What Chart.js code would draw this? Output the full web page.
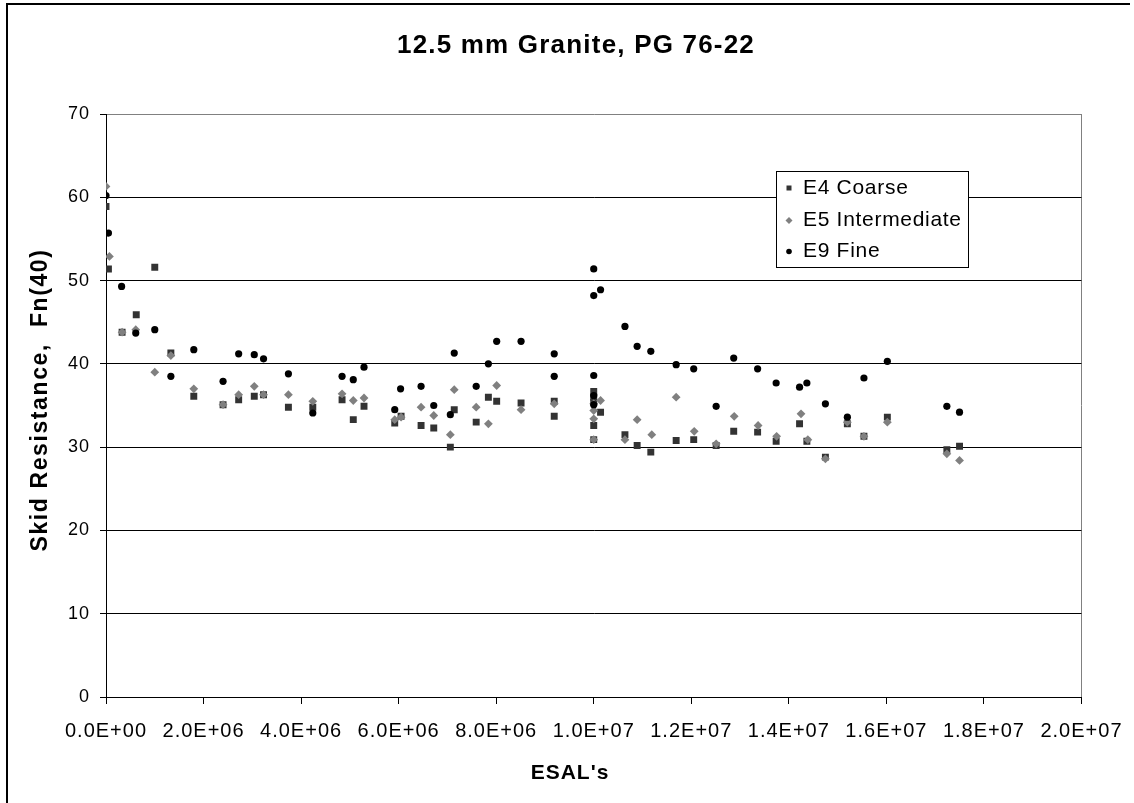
<!DOCTYPE html>
<html>
<head>
<meta charset="utf-8">
<title>12.5 mm Granite, PG 76-22</title>
<script src="https://cdn.jsdelivr.net/npm/chart.js@4.4.0/dist/chart.umd.min.js"></script>
<style>
    html, body { margin: 0; padding: 0; background: #fff; }
    canvas { display: block; }
</style>
</head>
<body>
<canvas id="skidChart" width="1134" height="803"></canvas>
<script>
// 시리즈 이름과 축 눈금
const seriesNames = ['E4 Coarse', 'E5 Intermediate', 'E9 Fine'];
const xTickLabels = ['0.0E+00', '2.0E+06', '4.0E+06', '6.0E+06', '8.0E+06', '1.0E+07',
                     '1.2E+07', '1.4E+07', '1.6E+07', '1.8E+07', '2.0E+07'];
const yTickLabels = ['0', '10', '20', '30', '40', '50', '60', '70'];

// E4 Coarse
const e4Esal = [0, 50000, 330000, 620000, 1000000, 1330000, 1800000, 2400000, 2720000, 3040000,
                3230000, 3740000, 4240000, 4840000, 5070000, 5290000, 5920000, 6050000, 6460000, 6720000,
                7060000, 7140000, 7590000, 7840000, 8010000, 8510000, 9190000, 9190000,
                10000000, 10000000, 10000000, 10000000, 10000000, 10140000, 10640000,
                10890000, 11170000, 11690000, 12050000, 12510000, 12870000, 13360000, 13740000, 14220000, 14370000,
                14750000, 15200000, 15540000, 16020000, 17240000, 17500000];
const e4Fn = [58.9, 51.4, 43.8, 45.9, 51.6, 41.3, 36.1, 35.1, 35.7, 36.1,
              36.3, 34.8, 34.8, 35.7, 33.3, 34.9, 32.9, 33.7, 32.6, 32.3,
              30.0, 34.5, 33.0, 36.0, 35.5, 35.3, 35.5, 33.7,
              36.7, 36.0, 35.4, 32.6, 30.9, 34.2, 31.5,
              30.2, 29.4, 30.8, 30.9, 30.2, 31.9, 31.8, 30.7, 32.8, 30.7,
              28.8, 32.8, 31.3, 33.6, 29.7, 30.1];

// E5 Intermediate
const e5Esal = [0, 70000, 330000, 610000, 1000000, 1330000, 1800000, 2400000, 2720000, 3040000,
                3230000, 3740000, 4240000, 4840000, 5070000, 5290000, 5920000, 6050000, 6460000, 6720000,
                7060000, 7140000, 7590000, 7840000, 8010000, 8510000, 9190000,
                10000000, 10000000, 10000000, 10000000, 10140000,
                10640000, 10890000, 11190000, 11690000, 12060000, 12510000, 12880000, 13370000,
                13750000, 14250000, 14390000, 14750000, 15200000, 15540000, 16020000, 17240000, 17500000];
const e5Fn = [61.3, 52.9, 43.8, 44.1, 39.0, 41.0, 37.0, 35.1, 36.3, 37.3,
              36.3, 36.3, 35.5, 36.4, 35.6, 35.9, 33.3, 33.6, 34.8, 33.8,
              31.5, 36.9, 34.8, 32.8, 37.4, 34.5, 35.2,
              35.2, 34.4, 33.4, 30.9, 35.6,
              30.9, 33.3, 31.5, 36.0, 31.9, 30.4, 33.7, 32.6,
              31.3, 34.0, 30.9, 28.6, 33.0, 31.3, 33.0, 29.2, 28.4];

// E9 Fine
const e9Esal = [0, 50000, 320000, 610000, 1000000, 1330000, 1800000, 2400000, 2720000, 3040000,
                3230000, 3740000, 4240000, 4840000, 5070000, 5290000, 5920000, 6040000, 6460000, 6720000,
                7060000, 7140000, 7590000, 7840000, 8010000, 8510000, 9190000, 9190000,
                10000000, 10000000, 10000000, 10000000, 10000000, 10140000, 10640000,
                10890000, 11170000, 11690000, 12050000, 12510000, 12870000, 13360000, 13740000, 14220000, 14370000,
                14750000, 15200000, 15540000, 16020000, 17240000, 17500000];
const e9Fn = [60.2, 55.7, 49.3, 43.7, 44.1, 38.5, 41.7, 37.9, 41.2, 41.1,
              40.6, 38.8, 34.1, 38.5, 38.1, 39.6, 34.5, 37.0, 37.3, 35.0,
              33.9, 41.3, 37.3, 40.0, 42.7, 42.7, 41.2, 38.5,
              51.4, 48.2, 38.6, 36.2, 35.1, 48.9, 44.5,
              42.1, 41.5, 39.9, 39.4, 34.9, 40.7, 39.4, 37.7, 37.2, 37.7,
              35.2, 33.6, 38.3, 40.3, 34.9, 34.2];

const FONT = "'Liberation Sans', Arial, sans-serif";

function toPoints(xs, ys) {
    return xs.map((x, i) => ({ x: x, y: ys[i] }));
}

// 제목, 축 제목, 범례, 바깥 테두리
const captionPlugin = {
    id: 'captions',
    beforeDraw(chart) {
        chart.ctx.letterSpacing = '1px';
    },
    afterDraw(chart) {
        const ctx = chart.ctx;
        ctx.save();

        // 바깥 테두리 (위, 왼쪽)
        ctx.strokeStyle = '#000';
        ctx.lineWidth = 2;
        ctx.beginPath();
        ctx.moveTo(7, 803);
        ctx.lineTo(7, 4);
        ctx.lineTo(1130, 4);
        ctx.stroke();

        ctx.fillStyle = '#000';
        ctx.textBaseline = 'middle';
        ctx.textAlign = 'center';

        ctx.letterSpacing = '1.2px';
        ctx.font = 'bold 26px ' + FONT;
        ctx.fillText('12.5 mm Granite, PG 76-22', 576, 46);

        ctx.letterSpacing = '1px';
        ctx.font = 'bold 21px ' + FONT;
        ctx.fillText("ESAL's", 570, 773);

        ctx.save();
        ctx.translate(41, 400);
        ctx.rotate(-Math.PI / 2);
        ctx.letterSpacing = '1.6px';
        ctx.font = 'bold 23px ' + FONT;
        ctx.fillText('Skid Resistance,  Fn(40)', 0, 0);
        ctx.restore();

        // 범례 상자
        const box = { x: 776.5, y: 171.5, w: 192, h: 96 };
        ctx.fillStyle = '#fff';
        ctx.fillRect(box.x, box.y, box.w, box.h);
        ctx.strokeStyle = '#000';
        ctx.lineWidth = 1;
        ctx.strokeRect(box.x, box.y, box.w, box.h);

        const rows = [188, 220.5, 251.5];
        const mx = 789;
        chart.data.datasets.forEach((ds, i) => {
            const y = rows[i];
            ctx.fillStyle = ds.backgroundColor;
            ctx.beginPath();
            if (ds.pointStyle === 'rect') {
                ctx.rect(mx - 2.5, y - 2.5, 5, 5);
            } else if (ds.pointStyle === 'rectRot') {
                ctx.moveTo(mx - 3.5, y);
                ctx.lineTo(mx, y - 3.5);
                ctx.lineTo(mx + 3.5, y);
                ctx.lineTo(mx, y + 3.5);
                ctx.closePath();
            } else {
                ctx.arc(mx, y, 2.8, 0, Math.PI * 2);
            }
            ctx.fill();

            ctx.fillStyle = '#000';
            ctx.textAlign = 'left';
            ctx.letterSpacing = '0.7px';
            ctx.font = '21px ' + FONT;
            ctx.fillText(ds.label, 803, y);
        });

        ctx.restore();
    }
};

document.addEventListener('DOMContentLoaded', function() {
    const canvas = document.getElementById('skidChart');

    new Chart(canvas, {
        type: 'scatter',
        data: {
            datasets: [
                {
                    label: seriesNames[0],
                    data: toPoints(e4Esal, e4Fn),
                    pointStyle: 'rect',
                    pointRadius: 4.9,
                    backgroundColor: '#333333',
                    borderWidth: 0,
                    order: 2
                },
                {
                    label: seriesNames[1],
                    data: toPoints(e5Esal, e5Fn),
                    pointStyle: 'rectRot',
                    pointRadius: 4.4,
                    backgroundColor: '#808080',
                    borderWidth: 0,
                    order: 1
                },
                {
                    label: seriesNames[2],
                    data: toPoints(e9Esal, e9Fn),
                    pointStyle: 'circle',
                    pointRadius: 3.6,
                    backgroundColor: '#000000',
                    borderWidth: 0,
                    order: 0
                }
            ]
        },
        options: {
            responsive: false,
            animation: false,
            events: [],
            devicePixelRatio: 1,
            layout: {
                padding: { left: 0, right: 50, top: 114, bottom: 0 }
            },
            plugins: {
                legend: { display: false },
                title: { display: false },
                tooltip: { enabled: false }
            },
            scales: {
                x: {
                    type: 'linear',
                    min: 0,
                    max: 20000000,
                    afterFit: function(scale) { scale.height = 106; },
                    ticks: {
                        stepSize: 2000000,
                        autoSkip: false,
                        maxRotation: 0,
                        padding: 15,
                        color: '#000',
                        font: { family: FONT, size: 20 },
                        callback: function(value, index) { return xTickLabels[index]; }
                    },
                    grid: {
                        color: function(c) { return c.tick && c.tick.value === 20000000 ? '#808080' : 'rgba(0,0,0,0)'; },
                        tickColor: '#000',
                        tickLength: 7,
                        lineWidth: 1
                    },
                    border: { color: '#000', width: 1 }
                },
                y: {
                    type: 'linear',
                    min: 0,
                    max: 70,
                    afterFit: function(scale) { scale.width = 106; },
                    ticks: {
                        stepSize: 10,
                        padding: 10,
                        color: '#000',
                        font: { family: FONT, size: 18 },
                        callback: function(value, index) { return yTickLabels[index]; }
                    },
                    grid: {
                        color: function(c) { return c.tick && c.tick.value === 70 ? '#808080' : '#000'; },
                        tickColor: '#000',
                        tickLength: 6,
                        lineWidth: 1
                    },
                    border: { color: '#000', width: 1 }
                }
            }
        },
        plugins: [captionPlugin]
    });
});
</script>
</body>
</html>
